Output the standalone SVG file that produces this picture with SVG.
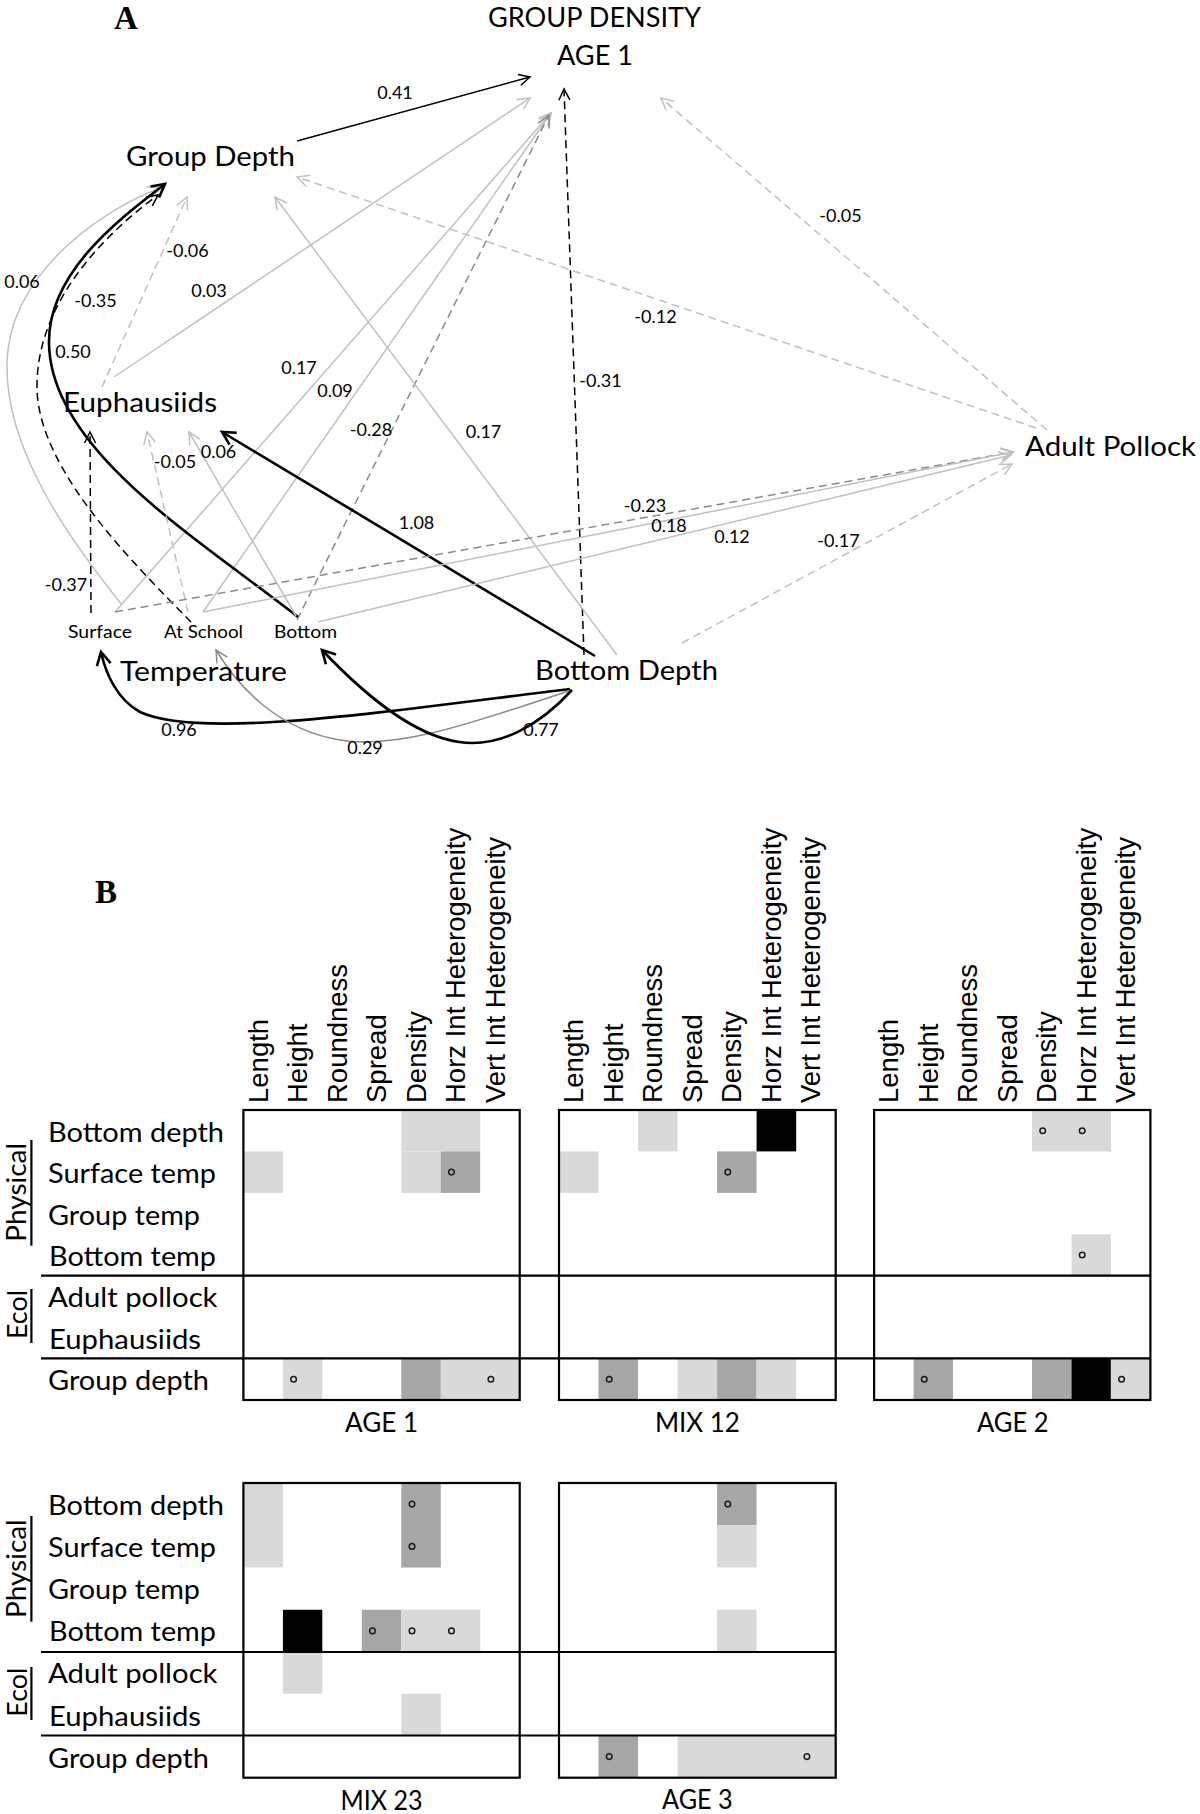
<svg xmlns="http://www.w3.org/2000/svg" width="1200" height="1814" viewBox="0 0 1200 1814">
<defs>
<style>
text{font-family:Lato,"Liberation Sans",sans-serif;fill:#000}
.node{font-size:27px}
.sub{font-size:17.5px}
.lab{font-size:18px;text-anchor:middle}
.panel{font-family:"Liberation Serif",serif;font-weight:bold;font-size:33px}
.e{fill:none;stroke-width:1.5}
.k{stroke:#000}
.kt{stroke:#000;stroke-width:2.6}
.g{stroke:#c0c0c0}
.m{stroke:#8a8a8a}
.d{stroke-dasharray:8 5}
.hdr{font-family:"Liberation Sans",Arial,sans-serif;font-size:27.5px}
.row{font-size:26px}
.ttl{font-size:26px;text-anchor:middle}
.box{fill:none;stroke:#000;stroke-width:2.2}
.sep{stroke:#000;stroke-width:2.2}
.L{fill:#d9d9d9}.D{fill:#a6a6a6}.K{fill:#000}
.o{fill:none;stroke:#1a1a1a;stroke-width:1.5}
</style>
<marker id="aK" markerUnits="userSpaceOnUse" orient="auto" overflow="visible" markerWidth="20" markerHeight="20"><path d="M-11,-5.5 L0,0 L-11,5.5" fill="none" stroke="#000" stroke-width="1.5"/></marker>
<marker id="aKT" markerUnits="userSpaceOnUse" orient="auto" overflow="visible" markerWidth="20" markerHeight="20"><path d="M-13,-7 L0,0 L-13,7" fill="none" stroke="#000" stroke-width="2.6"/></marker>
<marker id="aG" markerUnits="userSpaceOnUse" orient="auto" overflow="visible" markerWidth="20" markerHeight="20"><path d="M-12,-6 L0,0 L-12,6" fill="none" stroke="#c0c0c0" stroke-width="1.5"/></marker>
<marker id="aM" markerUnits="userSpaceOnUse" orient="auto" overflow="visible" markerWidth="20" markerHeight="20"><path d="M-12,-6 L0,0 L-12,6" fill="none" stroke="#8a8a8a" stroke-width="1.5"/></marker>
</defs>
<rect width="1200" height="1814" fill="#fff"/>

<text class="panel" x="114" y="29">A</text>
<text class="panel" x="95" y="903">B</text>

<!-- Panel A connectors -->
<g id="connectors">
<path class="e k" d="M297,141 L530,77" marker-end="url(#aK)"/>
<path class="e g" d="M114,377 L530,98" marker-end="url(#aG)"/>
<path class="e g" d="M115,612 L551,113" marker-end="url(#aG)"/>
<path class="e g" d="M203,612 L551,113" marker-end="url(#aG)"/>
<path class="e m d" d="M297,620 L549,115" marker-end="url(#aM)"/>
<path class="e k d" d="M584,655 L564,89" marker-end="url(#aK)"/>
<path class="e g d" d="M1047,430 L661,98" marker-end="url(#aG)"/>
<path class="e g d" d="M1036,428 L297,177" marker-end="url(#aG)"/>
<path class="e g" d="M617,655 L275,197" marker-end="url(#aG)"/>
<path class="e g d" d="M102,387 L187,197" marker-end="url(#aG)"/>
<path class="e g" d="M122,605 C70,540 5,450 7,363 C9,280 90,215 160,188" marker-end="url(#aG)"/>
<path class="e k d" d="M191,622 C130,560 40,470 37,390 C35,300 110,230 158,195" marker-end="url(#aK)"/>
<path class="e kt" d="M298,617 C200,540 50,450 49,343 C48,270 125,215 165,184" marker-end="url(#aKT)"/>
<path class="e k d" d="M91,613 L90,432" marker-end="url(#aK)"/>
<path class="e g d" d="M188,612 L147,432" marker-end="url(#aG)"/>
<path class="e g" d="M296,616 L189,432" marker-end="url(#aG)"/>
<path class="e kt" d="M595,656 Q415,548 222,432" marker-end="url(#aKT)"/>
<path class="e kt" d="M570,689 C380,712 200,740 140,712 C118,700 106,675 101,652" marker-end="url(#aKT)"/>
<path class="e m" d="M572,690 C480,720 400,750 340,740 C280,730 240,690 216,650" marker-end="url(#aM)"/>
<path class="e kt" d="M572,690 C540,725 500,748 459,742 C410,735 360,690 322,650" marker-end="url(#aKT)"/>
<path class="e m d" d="M115,612 L1013,452" marker-end="url(#aM)"/>
<path class="e g" d="M203,612 L1013,452" marker-end="url(#aG)"/>
<path class="e g" d="M318,622 L1011,455" marker-end="url(#aG)"/>
<path class="e g d" d="M682,643 L1012,464" marker-end="url(#aG)"/>
<g id="edge-labels">
<text class="lab" x="395" y="99">0.41</text>
<text class="lab" x="187.5" y="257">-0.06</text>
<text class="lab" x="22" y="288">0.06</text>
<text class="lab" x="209" y="297">0.03</text>
<text class="lab" x="95.5" y="307">-0.35</text>
<text class="lab" x="73" y="358">0.50</text>
<text class="lab" x="299" y="374">0.17</text>
<text class="lab" x="335" y="397">0.09</text>
<text class="lab" x="371" y="436">-0.28</text>
<text class="lab" x="483.5" y="438">0.17</text>
<text class="lab" x="175" y="468">-0.05</text>
<text class="lab" x="218.5" y="458">0.06</text>
<text class="lab" x="416.5" y="529">1.08</text>
<text class="lab" x="66" y="591">-0.37</text>
<text class="lab" x="179" y="736">0.96</text>
<text class="lab" x="365" y="754">0.29</text>
<text class="lab" x="541" y="736">0.77</text>
<text class="lab" x="840.5" y="222">-0.05</text>
<text class="lab" x="655.5" y="323">-0.12</text>
<text class="lab" x="600.5" y="387">-0.31</text>
<text class="lab" x="645" y="512">-0.23</text>
<text class="lab" x="669" y="532">0.18</text>
<text class="lab" x="732" y="543">0.12</text>
<text class="lab" x="838.5" y="547">-0.17</text>
</g>
</g>

<!-- Panel A nodes -->
<g id="node-group-density">
<text class="node" x="488" y="27" textLength="213" lengthAdjust="spacingAndGlyphs">GROUP DENSITY</text>
<text class="node" x="557" y="65" textLength="76" lengthAdjust="spacingAndGlyphs">AGE 1</text>
</g>
<g id="node-group-depth"><text class="node" x="126" y="166" textLength="169" lengthAdjust="spacingAndGlyphs">Group Depth</text></g>
<g id="node-euphausiids"><text class="node" x="63" y="412" textLength="154" lengthAdjust="spacingAndGlyphs">Euphausiids</text></g>
<g id="node-adult-pollock"><text class="node" x="1025" y="456" textLength="171" lengthAdjust="spacingAndGlyphs">Adult Pollock</text></g>
<g id="node-bottom-depth"><text class="node" x="535" y="680" textLength="183" lengthAdjust="spacingAndGlyphs">Bottom Depth</text></g>
<g id="node-temperature">
<text class="node" x="120" y="681" textLength="167" lengthAdjust="spacingAndGlyphs">Temperature</text>
<g id="node-temp-surface"><text class="sub" x="68" y="638" textLength="64" lengthAdjust="spacingAndGlyphs">Surface</text></g>
<g id="node-temp-school"><text class="sub" x="164" y="638" textLength="79" lengthAdjust="spacingAndGlyphs">At School</text></g>
<g id="node-temp-bottom"><text class="sub" x="274" y="638" textLength="63" lengthAdjust="spacingAndGlyphs">Bottom</text></g>
</g>

<!-- Panel B -->
<g id="panelB-cells">
<!-- AGE 1 -->
<rect class="L" x="401.3" y="1110" width="79" height="41.4"/>
<rect class="L" x="243.4" y="1151.4" width="39.5" height="41.5"/>
<rect class="L" x="401.3" y="1151.4" width="39.5" height="41.5"/>
<rect class="D" x="440.8" y="1151.4" width="39.4" height="41.5"/>
<rect class="L" x="282.9" y="1358.3" width="39.4" height="41.7"/>
<rect class="D" x="401.3" y="1358.3" width="39.5" height="41.7"/>
<rect class="L" x="440.8" y="1358.3" width="78.9" height="41.7"/>
<!-- MIX 12 -->
<rect class="L" x="638.1" y="1110" width="39.5" height="41.4"/>
<rect class="K" x="756.6" y="1110" width="39.6" height="41.4"/>
<rect class="L" x="559" y="1151.4" width="39.5" height="41.5"/>
<rect class="D" x="717.1" y="1151.4" width="39.5" height="41.5"/>
<rect class="D" x="598.5" y="1358.3" width="39.6" height="41.7"/>
<rect class="L" x="677.6" y="1358.3" width="39.5" height="41.7"/>
<rect class="D" x="717.1" y="1358.3" width="39.5" height="41.7"/>
<rect class="L" x="756.6" y="1358.3" width="39.6" height="41.7"/>
<!-- AGE 2 -->
<rect class="L" x="1032" y="1110" width="79" height="41.4"/>
<rect class="L" x="1071.5" y="1234.3" width="39.4" height="41.4"/>
<rect class="D" x="913.6" y="1358.3" width="39.4" height="41.7"/>
<rect class="D" x="1032" y="1358.3" width="39.5" height="41.7"/>
<rect class="K" x="1071.5" y="1358.3" width="39.4" height="41.7"/>
<rect class="L" x="1110.9" y="1358.3" width="39.5" height="41.7"/>
<!-- MIX 23 -->
<rect class="L" x="243.4" y="1483" width="39.5" height="84.5"/>
<rect class="D" x="401.3" y="1483" width="39.5" height="84.5"/>
<rect class="K" x="282.9" y="1609.75" width="39.4" height="42.25"/>
<rect class="D" x="361.8" y="1609.75" width="39.5" height="42.25"/>
<rect class="L" x="401.3" y="1609.75" width="79" height="42.25"/>
<rect class="L" x="282.9" y="1652" width="39.4" height="41.75"/>
<rect class="L" x="401.3" y="1693.75" width="39.5" height="41.75"/>
<!-- AGE 3 -->
<rect class="D" x="717.1" y="1483" width="39.5" height="42.25"/>
<rect class="L" x="717.1" y="1525.25" width="39.5" height="42.25"/>
<rect class="L" x="717.1" y="1609.75" width="39.5" height="42.25"/>
<rect class="D" x="598.5" y="1735.5" width="39.6" height="42.2"/>
<rect class="L" x="677.6" y="1735.5" width="158.1" height="42.2"/>
</g>
<g id="panelB-marks">
<circle class="o" cx="451.5" cy="1172.1" r="2.8"/>
<circle class="o" cx="293.6" cy="1379.2" r="2.8"/>
<circle class="o" cx="490.9" cy="1379.2" r="2.8"/>
<circle class="o" cx="727.8" cy="1172.1" r="2.8"/>
<circle class="o" cx="609.2" cy="1379.2" r="2.8"/>
<circle class="o" cx="1042.7" cy="1130.7" r="2.8"/>
<circle class="o" cx="1082.2" cy="1130.7" r="2.8"/>
<circle class="o" cx="1082.2" cy="1255" r="2.8"/>
<circle class="o" cx="924.3" cy="1379.2" r="2.8"/>
<circle class="o" cx="1121.6" cy="1379.2" r="2.8"/>
<circle class="o" cx="412" cy="1504.1" r="2.8"/>
<circle class="o" cx="412" cy="1546.4" r="2.8"/>
<circle class="o" cx="372.5" cy="1630.9" r="2.8"/>
<circle class="o" cx="412" cy="1630.9" r="2.8"/>
<circle class="o" cx="451.5" cy="1630.9" r="2.8"/>
<circle class="o" cx="727.8" cy="1504.1" r="2.8"/>
<circle class="o" cx="609.2" cy="1756.6" r="2.8"/>
<circle class="o" cx="806.9" cy="1756.6" r="2.8"/>
</g>
<g id="panelB-grid">
<rect class="box" x="243.4" y="1110" width="276.3" height="290"/>
<rect class="box" x="559" y="1110" width="276.7" height="290"/>
<rect class="box" x="874.1" y="1110" width="276.3" height="290"/>
<rect class="box" x="243.4" y="1483" width="276.3" height="294.7"/>
<rect class="box" x="559" y="1483" width="276.7" height="294.7"/>
<line class="sep" x1="41" y1="1275.7" x2="1150.4" y2="1275.7"/>
<line class="sep" x1="41" y1="1358.3" x2="1150.4" y2="1358.3"/>
<line class="sep" x1="41" y1="1652" x2="835.7" y2="1652"/>
<line class="sep" x1="41" y1="1735.5" x2="835.7" y2="1735.5"/>
</g>
<g id="panelB-headers" class="hdr">
<text class="hdr" transform="translate(267.6,1103) rotate(-90)">Length</text>
<text class="hdr" transform="translate(307.1,1103) rotate(-90)">Height</text>
<text class="hdr" transform="translate(346.6,1103) rotate(-90)">Roundness</text>
<text class="hdr" transform="translate(386,1103) rotate(-90)">Spread</text>
<text class="hdr" transform="translate(425.5,1103) rotate(-90)">Density</text>
<text class="hdr" transform="translate(465,1103) rotate(-90)">Horz Int Heterogeneity</text>
<text class="hdr" transform="translate(504.5,1103) rotate(-90)">Vert Int Heterogeneity</text>
<text class="hdr" transform="translate(583.3,1103) rotate(-90)">Length</text>
<text class="hdr" transform="translate(622.8,1103) rotate(-90)">Height</text>
<text class="hdr" transform="translate(662.3,1103) rotate(-90)">Roundness</text>
<text class="hdr" transform="translate(701.9,1103) rotate(-90)">Spread</text>
<text class="hdr" transform="translate(741.4,1103) rotate(-90)">Density</text>
<text class="hdr" transform="translate(780.9,1103) rotate(-90)">Horz Int Heterogeneity</text>
<text class="hdr" transform="translate(820.4,1103) rotate(-90)">Vert Int Heterogeneity</text>
<text class="hdr" transform="translate(898.3,1103) rotate(-90)">Length</text>
<text class="hdr" transform="translate(937.8,1103) rotate(-90)">Height</text>
<text class="hdr" transform="translate(977.3,1103) rotate(-90)">Roundness</text>
<text class="hdr" transform="translate(1016.7,1103) rotate(-90)">Spread</text>
<text class="hdr" transform="translate(1056.2,1103) rotate(-90)">Density</text>
<text class="hdr" transform="translate(1095.7,1103) rotate(-90)">Horz Int Heterogeneity</text>
<text class="hdr" transform="translate(1135.2,1103) rotate(-90)">Vert Int Heterogeneity</text>
</g>
<g id="panelB-rows-top">
<text class="row" x="48" y="1141.7" textLength="176" lengthAdjust="spacingAndGlyphs">Bottom depth</text>
<text class="row" x="48" y="1183.1" textLength="168" lengthAdjust="spacingAndGlyphs">Surface temp</text>
<text class="row" x="48" y="1224.6" textLength="152" lengthAdjust="spacingAndGlyphs">Group temp</text>
<text class="row" x="49" y="1266" textLength="167" lengthAdjust="spacingAndGlyphs">Bottom temp</text>
<text class="row" x="48" y="1307.4" textLength="169.5" lengthAdjust="spacingAndGlyphs">Adult pollock</text>
<text class="row" x="49" y="1348.8" textLength="152" lengthAdjust="spacingAndGlyphs">Euphausiids</text>
<text class="row" x="48" y="1390.3" textLength="161" lengthAdjust="spacingAndGlyphs">Group depth</text>
<text class="row" transform="translate(26,1241.7) rotate(-90)" textLength="98.7" lengthAdjust="spacingAndGlyphs">Physical</text>
<line class="sep" x1="31.4" y1="1140" x2="31.4" y2="1245.7" stroke-width="2"/>
<text class="row" transform="translate(27,1339) rotate(-90)" textLength="49" lengthAdjust="spacingAndGlyphs">Ecol</text>
<line class="sep" x1="31.4" y1="1289" x2="31.4" y2="1343" stroke-width="2"/>
</g>
<g id="panelB-rows-bottom">
<text class="row" x="48" y="1515" textLength="176" lengthAdjust="spacingAndGlyphs">Bottom depth</text>
<text class="row" x="48" y="1557.1" textLength="168" lengthAdjust="spacingAndGlyphs">Surface temp</text>
<text class="row" x="48" y="1599.2" textLength="152" lengthAdjust="spacingAndGlyphs">Group temp</text>
<text class="row" x="49" y="1641.3" textLength="167" lengthAdjust="spacingAndGlyphs">Bottom temp</text>
<text class="row" x="48" y="1683.4" textLength="169.5" lengthAdjust="spacingAndGlyphs">Adult pollock</text>
<text class="row" x="49" y="1725.5" textLength="152" lengthAdjust="spacingAndGlyphs">Euphausiids</text>
<text class="row" x="48" y="1767.6" textLength="161" lengthAdjust="spacingAndGlyphs">Group depth</text>
<text class="row" transform="translate(26,1618) rotate(-90)" textLength="98.7" lengthAdjust="spacingAndGlyphs">Physical</text>
<line class="sep" x1="31.4" y1="1516" x2="31.4" y2="1621.7" stroke-width="2"/>
<text class="row" transform="translate(27,1716.7) rotate(-90)" textLength="49" lengthAdjust="spacingAndGlyphs">Ecol</text>
<line class="sep" x1="31.4" y1="1667" x2="31.4" y2="1720" stroke-width="2"/>
</g>
<g id="panelB-titles">
<text class="ttl" x="381.5" y="1432" textLength="73" lengthAdjust="spacingAndGlyphs">AGE 1</text>
<text class="ttl" x="697.4" y="1432" textLength="85" lengthAdjust="spacingAndGlyphs">MIX 12</text>
<text class="ttl" x="1012.8" y="1432" textLength="71.4" lengthAdjust="spacingAndGlyphs">AGE 2</text>
<text class="ttl" x="381.5" y="1810" textLength="82" lengthAdjust="spacingAndGlyphs">MIX 23</text>
<text class="ttl" x="697.4" y="1809" textLength="70.6" lengthAdjust="spacingAndGlyphs">AGE 3</text>
</g>
</svg>
